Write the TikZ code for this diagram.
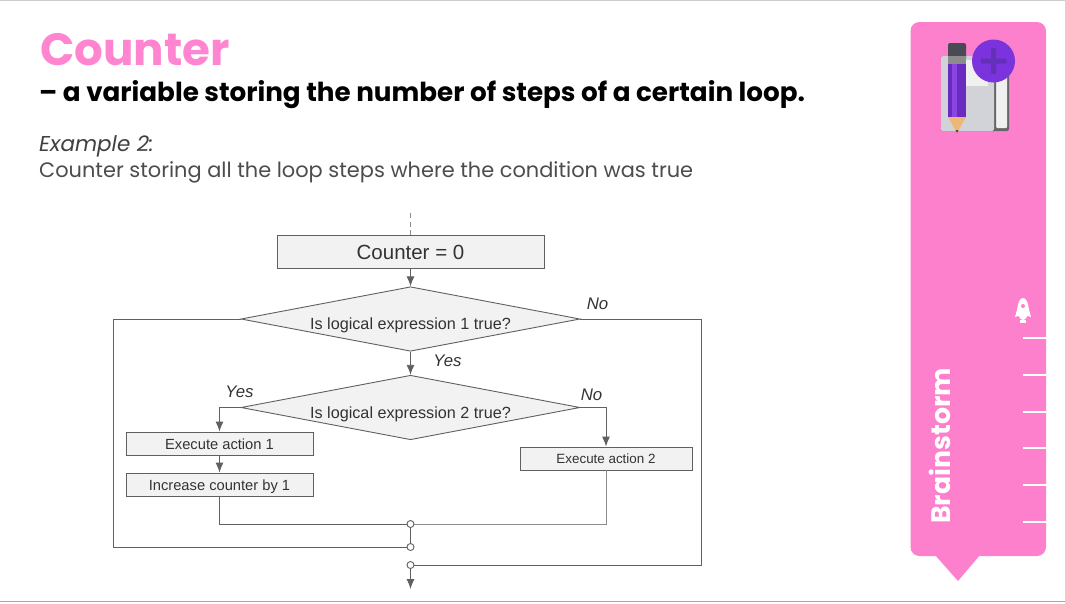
\documentclass[tikz,border=0pt]{standalone}
\usepackage{fontspec}
\setmainfont{Poppins}
\newfontfamily\flowfont{Liberation Sans}
\usetikzlibrary{shapes.geometric,arrows.meta}
\definecolor{panelpink}{HTML}{FD80CC}
\definecolor{titlepink}{HTML}{FF85D0}
\definecolor{flowline}{HTML}{606060}
\definecolor{flowfill}{HTML}{F2F2F2}
\definecolor{flowtext}{HTML}{333333}
\definecolor{pencildark}{HTML}{6A2BC0}
\definecolor{pencillight}{HTML}{8A45E0}
\definecolor{penciltan}{HTML}{EDB777}
\definecolor{pluscircle}{HTML}{7B33DD}
\definecolor{plusmark}{HTML}{6530B8}
\definecolor{eraser}{HTML}{4A4A55}
\definecolor{bookgrey}{HTML}{D1D3D8}
\tikzset{
	x=1pt, y=-1pt,
	flowbox/.style={rectangle, draw=flowline, fill=flowfill, inner sep=0pt, text=flowtext, font=\flowfont, line width=0.9pt},
	decision/.style={diamond, draw=flowline, fill=flowfill, inner sep=0pt, aspect=5.25, minimum width=339pt, minimum height=64.5pt, line width=0.9pt},
	decisiontext/.style={text=flowtext, inner sep=0pt, font=\flowfont\fontsize{16.2}{18}\selectfont},
	answer/.style={text=flowtext, inner sep=0pt, font=\flowfont\itshape\fontsize{16.8}{18}\selectfont},
	joint/.style={circle, draw=flowline, fill=white, inner sep=0pt, minimum size=7pt, line width=0.9pt},
	edge/.style={draw=flowline, line width=0.9pt},
	arrow/.style={edge, -{Latex[length=10pt,width=8pt]}},
	tick/.style={draw=white, line width=1.6pt}
}
\begin{document}
\begin{tikzpicture}
	\useasboundingbox (0,0) rectangle (1065,603);
	%Frame:
	\fill[white] (0,0) rectangle (1065,603);
	\draw[black!20, line width=1.5pt] (0,0.5) -- (1065,0.5);
	\draw[black!35, line width=1pt] (0,601.5) -- (1065,601.5);
	%Heading:
	\node[anchor=base west, inner sep=0pt, text=titlepink, font=\bfseries\fontsize{45.2}{48}\selectfont] (title) at (40,65) {Counter};
	\node[anchor=base west, inner sep=0pt, font=\bfseries\fontsize{26.2}{30}\selectfont] (subtitle) at (39,101) {– a variable storing the number of steps of a certain loop.};
	\node[anchor=base west, inner sep=0pt, text=black!75, font=\itshape\fontsize{21.5}{24}\selectfont] (example) at (39,151.5) {Example 2:};
	\node[anchor=base west, inner sep=0pt, text=black!70, font=\fontsize{20.9}{24}\selectfont] (excaption) at (39,177) {Counter storing all the loop steps where the condition was true};
	%Panel:
	\fill[panelpink, rounded corners=9pt] (910.5,22) rectangle (1046,556);
	\fill[panelpink] (935,555) -- (958,581) -- (980,555) -- cycle;
	\node[rotate=90, anchor=base, inner sep=0pt, text=white, font=\bfseries\fontsize{26.7}{30}\selectfont] (panelname) at (950,446) {Brainstorm};
	\foreach \y in {338,375,412,448,485,522}
		\draw[tick] (1023,\y) -- (1046,\y);
	%Rocket:
	\fill[white] (1023,309) ellipse (5.5 and 11);
	\fill[white] (1018,306) -- (1015,317) -- (1018,316) -- (1028,316) -- (1031,317) -- (1028,306) -- cycle;
	\fill[white] (1020,320) rectangle (1026,323);
	\fill[panelpink] (1023,306) circle (2);
	%Book:
	\fill[black!60, rounded corners=2pt] (990,60) rectangle (1009,131);
	\fill[black!6, rounded corners=1pt] (996,62) rectangle (1007,128);
	\fill[black!60, rounded corners=2pt] (941,56) rectangle (996,131);
	\fill[bookgrey, rounded corners=2pt] (941,56) rectangle (994,131);
	\fill[black!6] (966,60) rectangle (988,86);
	%Pencil:
	\fill[eraser, rounded corners=2pt] (948,43) rectangle (966,60);
	\fill[black!45] (948,56) rectangle (966,64);
	\fill[pencildark] (948,64) rectangle (966,117);
	\fill[pencillight] (952,64) rectangle (957,117);
	\fill[penciltan] (948,117) -- (966,117) -- (957,133) -- cycle;
	\fill[black!70] (955.5,130) -- (958.5,130) -- (957,133) -- cycle;
	%Plus:
	\fill[pluscircle] (993.5,61) circle (21.5);
	\fill[plusmark, rounded corners=1pt] (980.5,58.5) rectangle (1006.5,63.5);
	\fill[plusmark, rounded corners=1pt] (991,48) rectangle (996,74);
	%Nodes:
	\coordinate (entry) at (410.5,213);
	\node[flowbox, minimum width=267pt, minimum height=33pt, text height=17pt, font=\flowfont\fontsize{20.5}{22}\selectfont] (init) at (410.5,251.5) {Counter = 0};
	\node[decision] (checkOne) at (410.5,319) {};
	\node[decisiontext] (checkOneText) at (410.5,325) {Is logical expression 1 true?};
	\node[decision] (checkTwo) at (410.5,407.5) {};
	\node[decisiontext] (checkTwoText) at (410.5,414) {Is logical expression 2 true?};
	\node[flowbox, minimum width=187pt, minimum height=23pt, text height=14pt, text depth=3pt, font=\flowfont\fontsize{14.7}{16}\selectfont] (actionOne) at (219.5,443.5) {Execute action 1};
	\node[flowbox, minimum width=187pt, minimum height=23pt, text height=14pt, text depth=3pt, font=\flowfont\fontsize{14.7}{16}\selectfont] (increase) at (219.5,484.5) {Increase counter by 1};
	\node[flowbox, minimum width=172pt, minimum height=23pt, font=\flowfont\fontsize{13.4}{15}\selectfont] (actionTwo) at (606,458.5) {Execute action 2};
	\node[joint] (joinInner) at (410.5,524) {};
	\node[joint] (joinLoop) at (410.5,547) {};
	\node[joint] (joinExit) at (410.5,565) {};
	\coordinate (loopCorner) at (113,547);
	\coordinate (exitCorner) at (701,565);
	\coordinate (innerCorner) at (219.5,524);
	\coordinate (outerCorner) at (606,524);
	\coordinate (exit) at (410.5,589);
	\node[answer] (noOne) at (597.5,304) {No};
	\node[answer] (yesOne) at (447.5,361) {Yes};
	\node[answer] (yesTwo) at (239.5,392) {Yes};
	\node[answer] (noTwo) at (591.5,395) {No};
	%Edges:
	\draw[edge, draw=black!45, dash pattern=on 5pt off 3.5pt] (entry) -- (init.north);
	\draw[arrow] (init.south) -- (checkOne.north);
	\draw[arrow] (checkOne.south) -- (checkTwo.north);
	\draw[edge] (checkOne.west) -| (loopCorner) -- (joinLoop.west);
	\draw[edge] (checkOne.east) -| (exitCorner) -- (joinExit.east);
	\draw[arrow] (checkTwo.west) -| (actionOne.north);
	\draw[arrow] (checkTwo.east) -| (actionTwo.north);
	\draw[arrow] (actionOne.south) -- (increase.north);
	\draw[edge] (increase.south) -- (innerCorner) -- (joinInner.west);
	\draw[edge, draw=black!45] (actionTwo.south) -- (outerCorner) -- (joinInner.east);
	\draw[edge] (joinInner.south) -- (joinLoop.north);
	\draw[arrow] (joinExit.south) -- (exit);
\end{tikzpicture}
\end{document}
